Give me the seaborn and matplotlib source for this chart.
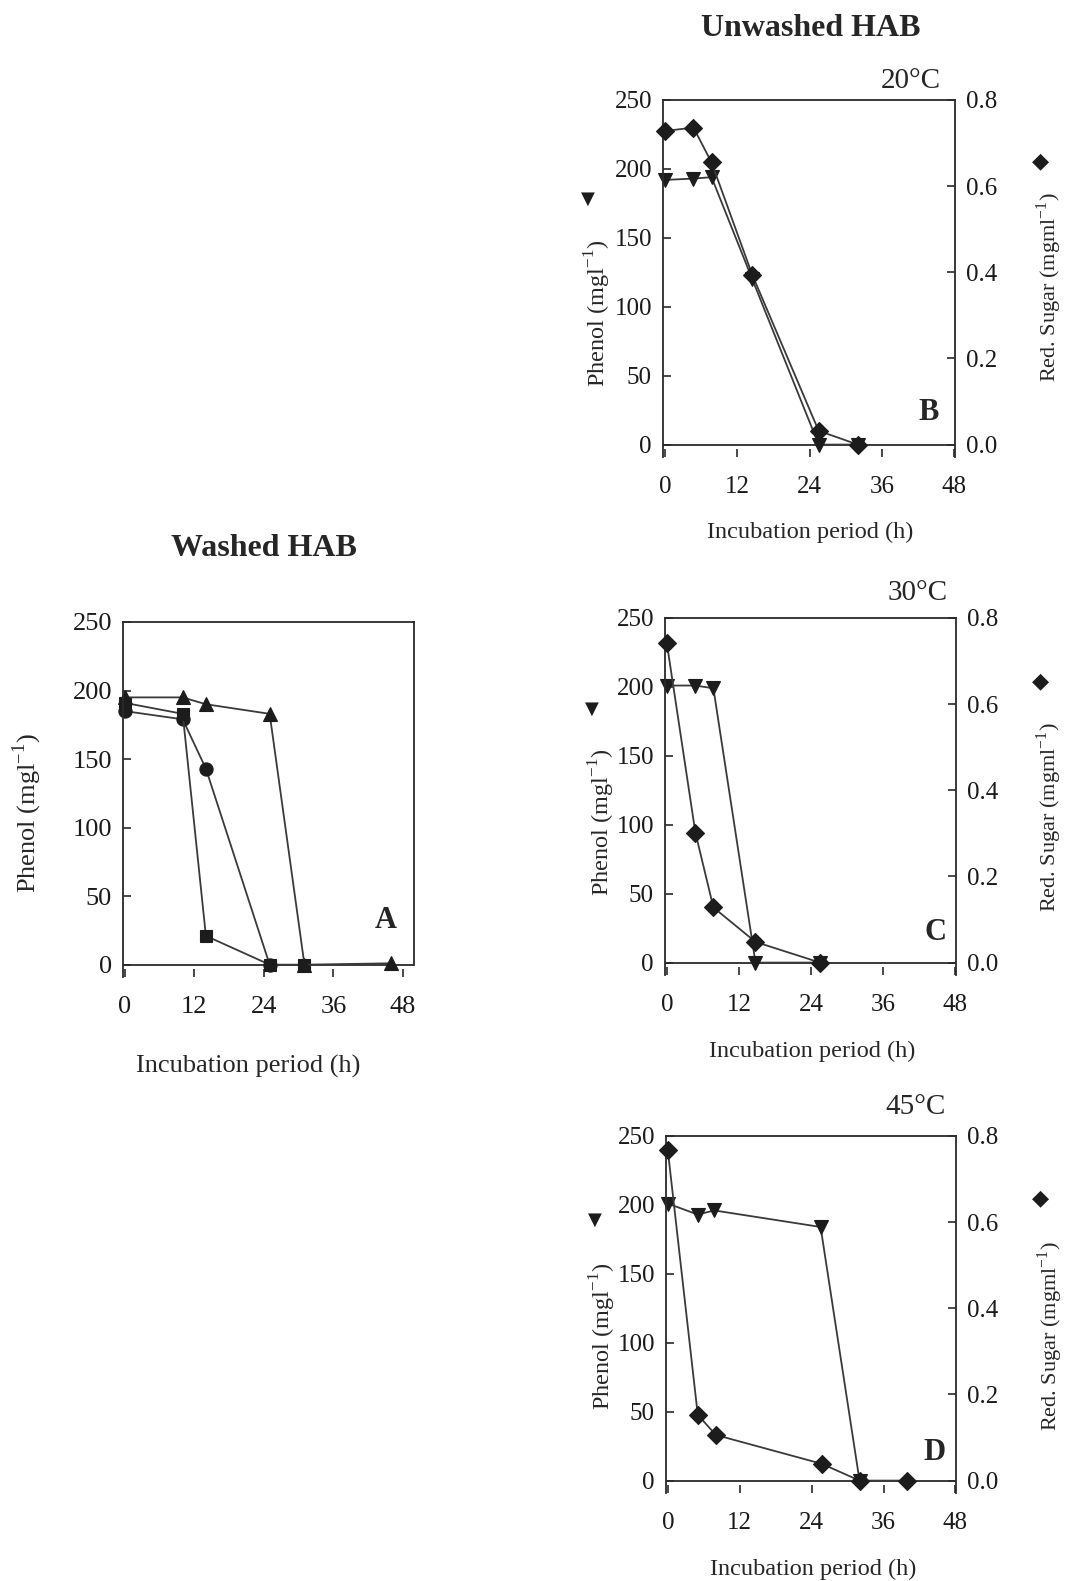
import matplotlib
matplotlib.use("Agg")
import matplotlib.pyplot as plt
import seaborn as sns
import pandas as pd

W, H = 1065, 1581

# ---------------- data ----------------
a_time_tri = [0, 10, 14, 25, 31, 46]
a_phenol_tri = [195, 195, 190, 183, 0, 1]
a_time_circ = [0, 10, 14, 25]
a_phenol_circ = [185, 179, 143, 0]
a_time_sq = [0, 10, 14, 25, 31]
a_phenol_sq = [191, 183, 21, 0, 0]

b_time_phenol = [0, 4.75, 7.75, 14.5, 25.5, 32]
b_phenol = [192, 193, 194, 120, 0, 0]
b_time_sugar = [0, 4.75, 7.75, 14.5, 25.5, 32]
b_sugar = [0.728, 0.736, 0.655, 0.394, 0.032, 0.0]

c_time_phenol = [0, 4.75, 7.75, 14.75, 25.5]
c_phenol = [201, 201, 199, 0, 0]
c_time_sugar = [0, 4.75, 7.75, 14.75, 25.5]
c_sugar = [0.742, 0.302, 0.128, 0.048, 0.0]

d_time_phenol = [0, 5, 7.75, 25.5, 32]
d_phenol = [201, 193, 196, 184, 0]
d_time_sugar = [0, 5, 8, 25.7, 32, 40]
d_sugar = [0.767, 0.153, 0.106, 0.039, 0.0, 0.0]

x_ticks = [0, 12, 24, 36, 48]
phenol_ticks = [0, 50, 100, 150, 200, 250]
sugar_ticks = [0.0, 0.2, 0.4, 0.6, 0.8]

# ---------------- style ----------------
sns.set_theme(style="white")
plt.rcParams["font.family"] = ["Liberation Serif", "DejaVu Serif"]
plt.rcParams["mathtext.fontset"] = "custom"
plt.rcParams["mathtext.rm"] = "Liberation Serif"

MK = "#1c1c1c"
LN = "#3a3a3a"
SP = "#2a2a2a"

fig = plt.figure(figsize=(W / 100, H / 100), dpi=100)
fig.patch.set_facecolor("white")


def add_ax(left, top, right, bottom):
    return fig.add_axes([left / W, 1 - bottom / H, (right - left) / W, (bottom - top) / H])


def ftext(x, y, s, **kw):
    fig.text(x / W, 1 - y / H, s, **kw)


def style_ax(ax, xmax, tick_fs):
    ax.set_facecolor("white")
    ax.set_xlim(-0.3, xmax)
    ax.set_ylim(-9, 250)
    ax.set_xticks(x_ticks)
    ax.set_yticks(phenol_ticks)
    ax.set_xticklabels([str(t) for t in x_ticks])
    ax.set_yticklabels([str(t) for t in phenol_ticks])
    ax.spines["bottom"].set_visible(False)
    for s in ["left", "right", "top"]:
        ax.spines[s].set_visible(True)
        ax.spines[s].set_color(SP)
        ax.spines[s].set_linewidth(1.3)
    ax.axhline(0, color=SP, lw=1.3, zorder=1)
    ax.tick_params(axis="both", direction="in", length=6, width=1.2, color=SP,
                   labelsize=tick_fs, labelcolor="#1a1a1a", bottom=True, left=True,
                   top=False, right=False)
    ax.tick_params(axis="x", pad=14)
    ax.tick_params(axis="y", pad=8)
    ax.grid(False)


def series(ax, x, y, marker, ms):
    df = pd.DataFrame({"t": x, "v": y})
    sns.lineplot(data=df, x="t", y="v", ax=ax, estimator=None, sort=False,
                 color=LN, linewidth=1.3, marker=marker, markersize=ms,
                 markerfacecolor=MK, markeredgecolor=MK, markeredgewidth=0.8,
                 clip_on=False, legend=False)
    ax.set_xlabel("")
    ax.set_ylabel("")


def twin(ax, tick_fs):
    ax2 = ax.twinx()
    ax2.set_ylim(-9 * 0.8 / 250, 0.8)
    ax2.set_yticks(sugar_ticks)
    ax2.set_yticklabels([f"{t:.1f}" for t in sugar_ticks])
    for s in ax2.spines.values():
        s.set_visible(False)
    ax2.tick_params(axis="y", direction="in", length=6, width=1.2, color=SP,
                    labelsize=tick_fs, labelcolor="#1a1a1a", right=True, left=False, pad=8)
    ax2.grid(False)
    return ax2


# ---------------- Panel A ----------------
axA = add_ax(123, 622, 414, 977)
style_ax(axA, 49.9, 19)
axA.spines["right"].set_bounds(0, 250)
series(axA, a_time_circ, a_phenol_circ, "o", 9.5)
series(axA, a_time_sq, a_phenol_sq, "s", 9)
series(axA, a_time_tri, a_phenol_tri, "^", 9.5)
ftext(264, 548, "Washed HAB", fontsize=23, fontweight="bold", ha="center", va="center")
ftext(386, 920, "A", fontsize=22, fontweight="bold", ha="center", va="center")
ftext(27, 813, "Phenol (mgl$^{-1}$)", fontsize=19, rotation=90, ha="center", va="center")
ftext(248, 1066, "Incubation period (h)", fontsize=19, ha="center", va="center")

# ---------------- Panels B, C, D ----------------
panels = [
    dict(box=(663, 100, 955, 457), tp=b_time_phenol, p=b_phenol, ts=b_time_sugar, s=b_sugar,
         temp="20°C", temp_xy=(941, 81), lab="B", lab_xy=(929, 413),
         tri_xy=(588, 199), dia_xy=(1041, 161), yl_xy=(598, 313), yr_xy=(1049, 287),
         xl_xy=(810, 532)),
    dict(box=(665, 618, 956, 975), tp=c_time_phenol, p=c_phenol, ts=c_time_sugar, s=c_sugar,
         temp="30°C", temp_xy=(948, 593), lab="C", lab_xy=(935, 933),
         tri_xy=(592, 709), dia_xy=(1040, 681), yl_xy=(602, 822), yr_xy=(1049, 817),
         xl_xy=(812, 1051)),
    dict(box=(666, 1136, 956, 1493), tp=d_time_phenol, p=d_phenol, ts=d_time_sugar, s=d_sugar,
         temp="45°C", temp_xy=(946, 1107), lab="D", lab_xy=(935, 1453),
         tri_xy=(595, 1220), dia_xy=(1041, 1198), yl_xy=(603, 1336), yr_xy=(1050, 1336),
         xl_xy=(813, 1569)),
]

for P in panels:
    ax = add_ax(*P["box"])
    style_ax(ax, 48.1, 18)
    series(ax, P["tp"], P["p"], "v", 9.5)
    ax2 = twin(ax, 18)
    series(ax2, P["ts"], P["s"], "D", 9.5)
    ftext(*P["temp_xy"], P["temp"], fontsize=21, ha="right", va="center")
    ftext(*P["lab_xy"], P["lab"], fontsize=22, fontweight="bold", ha="center", va="center")
    ftext(*P["tri_xy"], "▼", fontsize=13, color=MK, ha="center", va="center",
          family=["DejaVu Sans"])
    ftext(*P["dia_xy"], "◆", fontsize=16, color=MK, ha="center", va="center",
          family=["DejaVu Sans"])
    ftext(*P["yl_xy"], "Phenol (mgl$^{-1}$)", fontsize=17.5, rotation=90, ha="center", va="center")
    ftext(*P["yr_xy"], "Red. Sugar (mgml$^{-1}$)", fontsize=16, rotation=90, ha="center", va="center")
    ftext(*P["xl_xy"], "Incubation period (h)", fontsize=17.5, ha="center", va="center")

ftext(811, 28, "Unwashed HAB", fontsize=23, fontweight="bold", ha="center", va="center")

fig.savefig("out.png", dpi=100, facecolor="white")
